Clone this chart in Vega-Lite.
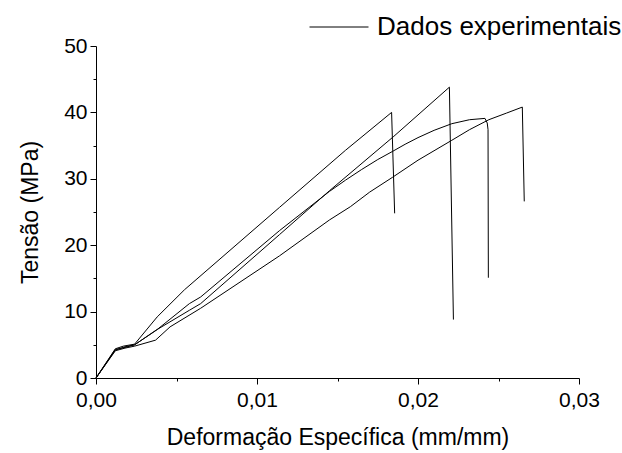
{
  "$schema": "https://vega.github.io/schema/vega-lite/v6.json",
  "width": 483,
  "height": 332,
  "autosize": {"type": "none"},
  "padding": {"left": 96, "top": 46, "right": 43, "bottom": 75},
  "background": "white",
  "config": {
    "font": "Liberation Sans",
    "view": {"stroke": null},
    "axis": {
      "grid": false,
      "domainColor": "black",
      "domainWidth": 1,
      "tickColor": "black",
      "tickWidth": 1,
      "labelColor": "black",
      "labelFont": "Liberation Sans",
      "labelFontSize": 21,
      "titleColor": "black",
      "titleFont": "Liberation Sans",
      "titleFontSize": 23,
      "titleFontWeight": "normal"
    }
  },
  "data": {
    "values": [
      {"cp": "CP1", "i": 0, "def": 0, "tensao": 0},
      {"cp": "CP1", "i": 1, "def": 0.0012, "tensao": 4.4},
      {"cp": "CP1", "i": 2, "def": 0.0017, "tensao": 4.8},
      {"cp": "CP1", "i": 3, "def": 0.0024, "tensao": 5.1},
      {"cp": "CP1", "i": 4, "def": 0.0038, "tensao": 9.2},
      {"cp": "CP1", "i": 5, "def": 0.0055, "tensao": 13.3},
      {"cp": "CP1", "i": 6, "def": 0.0114, "tensao": 25.7},
      {"cp": "CP1", "i": 7, "def": 0.0155, "tensao": 34.3},
      {"cp": "CP1", "i": 8, "def": 0.01836, "tensao": 40.0},
      {"cp": "CP1", "i": 9, "def": 0.01855, "tensao": 24.8},

      {"cp": "CP2", "i": 0, "def": 0, "tensao": 0},
      {"cp": "CP2", "i": 1, "def": 0.0012, "tensao": 4.2},
      {"cp": "CP2", "i": 2, "def": 0.0018, "tensao": 4.7},
      {"cp": "CP2", "i": 3, "def": 0.0024, "tensao": 5.0},
      {"cp": "CP2", "i": 4, "def": 0.0038, "tensao": 7.3},
      {"cp": "CP2", "i": 5, "def": 0.0058, "tensao": 10.2},
      {"cp": "CP2", "i": 6, "def": 0.0065, "tensao": 11.2},
      {"cp": "CP2", "i": 7, "def": 0.0114, "tensao": 21.6},
      {"cp": "CP2", "i": 8, "def": 0.0145, "tensao": 28.2},
      {"cp": "CP2", "i": 9, "def": 0.0185, "tensao": 36.4},
      {"cp": "CP2", "i": 10, "def": 0.02195, "tensao": 43.8},
      {"cp": "CP2", "i": 11, "def": 0.0222, "tensao": 8.8},

      {"cp": "CP3", "i": 0, "def": 0, "tensao": 0},
      {"cp": "CP3", "i": 1, "def": 0.0012, "tensao": 4.3},
      {"cp": "CP3", "i": 2, "def": 0.0018, "tensao": 4.6},
      {"cp": "CP3", "i": 3, "def": 0.0024, "tensao": 5.0},
      {"cp": "CP3", "i": 4, "def": 0.0038, "tensao": 7.3},
      {"cp": "CP3", "i": 5, "def": 0.0058, "tensao": 11.2},
      {"cp": "CP3", "i": 6, "def": 0.0065, "tensao": 12.2},
      {"cp": "CP3", "i": 7, "def": 0.0114, "tensao": 22.2},
      {"cp": "CP3", "i": 8, "def": 0.0145, "tensao": 28.1},
      {"cp": "CP3", "i": 9, "def": 0.0155, "tensao": 29.8},
      {"cp": "CP3", "i": 10, "def": 0.0165, "tensao": 31.4},
      {"cp": "CP3", "i": 11, "def": 0.0175, "tensao": 32.9},
      {"cp": "CP3", "i": 12, "def": 0.0184, "tensao": 34.1},
      {"cp": "CP3", "i": 13, "def": 0.0192, "tensao": 35.2},
      {"cp": "CP3", "i": 14, "def": 0.02, "tensao": 36.2},
      {"cp": "CP3", "i": 15, "def": 0.021, "tensao": 37.3},
      {"cp": "CP3", "i": 16, "def": 0.0221, "tensao": 38.3},
      {"cp": "CP3", "i": 17, "def": 0.0232, "tensao": 38.9},
      {"cp": "CP3", "i": 18, "def": 0.02416, "tensao": 39.1},
      {"cp": "CP3", "i": 19, "def": 0.0243, "tensao": 38.4},
      {"cp": "CP3", "i": 20, "def": 0.02435, "tensao": 37.4},
      {"cp": "CP3", "i": 21, "def": 0.02437, "tensao": 15.1},

      {"cp": "CP4", "i": 0, "def": 0, "tensao": 0},
      {"cp": "CP4", "i": 1, "def": 0.0012, "tensao": 4.1},
      {"cp": "CP4", "i": 2, "def": 0.0018, "tensao": 4.5},
      {"cp": "CP4", "i": 3, "def": 0.0024, "tensao": 4.8},
      {"cp": "CP4", "i": 4, "def": 0.0037, "tensao": 5.7},
      {"cp": "CP4", "i": 5, "def": 0.0046, "tensao": 7.7},
      {"cp": "CP4", "i": 6, "def": 0.0065, "tensao": 10.5},
      {"cp": "CP4", "i": 7, "def": 0.0114, "tensao": 18.4},
      {"cp": "CP4", "i": 8, "def": 0.0145, "tensao": 23.8},
      {"cp": "CP4", "i": 9, "def": 0.0158, "tensao": 25.8},
      {"cp": "CP4", "i": 10, "def": 0.017, "tensao": 28.0},
      {"cp": "CP4", "i": 11, "def": 0.0184, "tensao": 30.2},
      {"cp": "CP4", "i": 12, "def": 0.02, "tensao": 32.8},
      {"cp": "CP4", "i": 13, "def": 0.0221, "tensao": 35.8},
      {"cp": "CP4", "i": 14, "def": 0.0232, "tensao": 37.4},
      {"cp": "CP4", "i": 15, "def": 0.0244, "tensao": 38.9},
      {"cp": "CP4", "i": 16, "def": 0.0255, "tensao": 39.9},
      {"cp": "CP4", "i": 17, "def": 0.02648, "tensao": 40.8},
      {"cp": "CP4", "i": 18, "def": 0.0266, "tensao": 26.6}
    ]
  },
  "transform": [
    {"calculate": "'Dados experimentais'", "as": "serie"}
  ],
  "mark": {"type": "line", "strokeWidth": 1, "interpolate": "linear"},
  "encoding": {
    "x": {
      "field": "def",
      "type": "quantitative",
      "scale": {"domain": [0, 0.03], "nice": false, "zero": false},
      "axis": {
        "title": "Deformação Específica (mm/mm)",
        "values": [0, 0.005, 0.01, 0.015, 0.02, 0.025, 0.03],
        "labelExpr": "abs(datum.value * 100 - round(datum.value * 100)) < 0.000001 ? replace(format(datum.value, '.2f'), '.', ',') : ''",
        "tickSize": {"condition": {"test": "abs(datum.value * 100 - round(datum.value * 100)) < 0.000001", "value": 6}, "value": 3},
        "labelPadding": 5,
        "labelFlush": false,
        "labelOverlap": false,
        "titlePadding": 16
      }
    },
    "y": {
      "field": "tensao",
      "type": "quantitative",
      "scale": {"domain": [0, 50], "nice": false},
      "axis": {
        "title": "Tensão (MPa)",
        "values": [0, 5, 10, 15, 20, 25, 30, 35, 40, 45, 50],
        "labelExpr": "datum.value % 10 == 0 ? datum.label : ''",
        "tickSize": {"condition": {"test": "datum.value % 10 == 0", "value": 6}, "value": 3},
        "labelPadding": 3,
        "labelFlush": false,
        "labelOverlap": false,
        "titlePadding": 21
      }
    },
    "detail": {"field": "cp"},
    "order": {"field": "i", "type": "quantitative"},
    "color": {
      "field": "serie",
      "type": "nominal",
      "scale": {"range": ["black"]},
      "legend": {
        "title": null,
        "orient": "none",
        "legendX": 213,
        "legendY": -49,
        "symbolType": "stroke",
        "symbolSize": 3481,
        "symbolStrokeWidth": 1,
        "labelFont": "Liberation Sans",
        "labelFontSize": 26,
        "labelColor": "black",
        "labelLimit": 0,
        "labelOffset": 8
      }
    }
  }
}
